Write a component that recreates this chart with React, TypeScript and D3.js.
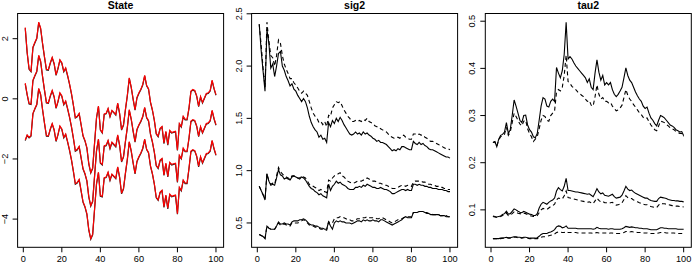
import * as d3 from 'd3';

const svgWidth = 692,
	svgHeight = 265;
const plotTop = 13.5,
	plotBottom = 247.3,
	plotWidth = 206;

const steps = d3.range(1, 101);
const xTicks = [0, 20, 40, 60, 80, 100];

// State: three quantile paths
const stateUpper = [
	2.37, 1.55, 1.0, 0.92, 1.72, 1.88, 2.02, 2.55, 2.35, 1.85,
	1.4, 0.98, 0.97, 1.2, 1.38, 1.18, 0.8, 1.02, 1.3, 1.2,
	0.92, 1.03, 0.78, 0.5, 0.18, -0.2, -0.62, -0.58, -0.48, -0.85,
	-1.22, -1.38, -1.62, -2.15, -2.45, -2.3, -1.45, -0.62, -0.24, -1.02,
	-1.12, -0.5, -0.48, -0.32, -0.58, -0.38, -0.45, -0.52, -0.14, -0.48,
	-1.02, -0.86, -0.35, 0.12, 0.7, 0.4, 0.0, -0.36, 0.05, 0.2,
	0.32, 0.48, 0.78, 0.45, 0.34, -0.1, -0.36, -0.7, -1.15, -1.24,
	-0.98, -0.92, -1.47, -1.08, -1.52, -1.05, -1.12, -1.1, -1.08, -1.7,
	-0.82, -0.92, -0.58, -0.68, -0.68, -0.3, 0.26, 0.31, 0.28, 0.1,
	-0.24, 0.08, -0.12, 0.03, 0.18, 0.2, 0.28, 0.62, 0.35, 0.14,
];
const stateMid = [
	0.52, 0.15, -0.15, -0.17, 0.62, 0.78, 0.92, 1.45, 1.25, 0.75,
	0.3, -0.12, -0.13, 0.1, 0.28, 0.08, -0.3, -0.08, 0.2, 0.1,
	-0.18, -0.07, -0.32, -0.6, -0.92, -1.3, -1.72, -1.68, -1.58, -1.95,
	-2.32, -2.48, -2.72, -3.25, -3.55, -3.4, -2.55, -1.72, -1.34, -2.12,
	-2.18, -1.56, -1.54, -1.38, -1.64, -1.44, -1.51, -1.58, -1.2, -1.54,
	-2.08, -1.92, -1.41, -0.94, -0.36, -0.66, -1.06, -1.42, -1.01, -0.86,
	-0.74, -0.58, -0.28, -0.61, -0.72, -1.16, -1.42, -1.76, -2.21, -2.3,
	-2.04, -1.98, -2.53, -2.14, -2.58, -2.11, -2.18, -2.16, -2.14, -2.76,
	-1.88, -1.98, -1.64, -1.74, -1.74, -1.3, -0.74, -0.69, -0.72, -0.9,
	-1.24, -0.92, -1.12, -0.97, -0.82, -0.8, -0.72, -0.38, -0.65, -0.86,
];
const stateLower = [
	-1.37, -1.2, -1.28, -1.22, -0.48, -0.32, -0.18, 0.35, 0.15, -0.35,
	-0.8, -1.22, -1.23, -1.0, -0.82, -1.02, -1.4, -1.18, -0.9, -1.0,
	-1.28, -1.17, -1.42, -1.7, -2.02, -2.4, -2.82, -2.78, -2.68, -3.05,
	-3.42, -3.58, -3.82, -4.35, -4.65, -4.5, -3.65, -2.82, -2.44, -3.22,
	-3.24, -2.62, -2.6, -2.44, -2.7, -2.5, -2.57, -2.64, -2.26, -2.6,
	-3.14, -2.98, -2.47, -2.0, -1.42, -1.72, -2.12, -2.48, -2.07, -1.92,
	-1.8, -1.64, -1.34, -1.67, -1.78, -2.22, -2.48, -2.82, -3.27, -3.36,
	-3.1, -3.04, -3.59, -3.2, -3.64, -3.17, -3.24, -3.22, -3.2, -3.82,
	-2.94, -3.04, -2.7, -2.8, -2.8, -2.3, -1.74, -1.69, -1.72, -1.9,
	-2.24, -1.92, -2.12, -1.97, -1.82, -1.8, -1.72, -1.38, -1.65, -1.86,
];

// sig2: solid and dashed quantiles
const sig2Upper = [
	2.4, 2.15, 1.95, 1.76, 2.35, 2.22, 1.98, 2.02, 1.9, 2.0,
	2.12, 2.14, 2.0, 1.96, 1.9, 1.86, 1.81, 1.83, 1.78, 1.76,
	1.72, 1.69, 1.66, 1.69, 1.66, 1.6, 1.52, 1.46, 1.42, 1.39,
	1.37, 1.32, 1.34, 1.3, 1.31, 1.27, 1.46, 1.42, 1.48, 1.45,
	1.5, 1.47, 1.51, 1.48, 1.44, 1.41, 1.38, 1.35, 1.34, 1.35,
	1.37, 1.35, 1.36, 1.34, 1.37, 1.35, 1.36, 1.34, 1.33, 1.31,
	1.3, 1.28, 1.29, 1.27, 1.27, 1.26, 1.25, 1.23, 1.21, 1.19,
	1.2, 1.19, 1.21, 1.2, 1.23, 1.23, 1.22, 1.21, 1.2, 1.2,
	1.28, 1.26, 1.25, 1.27, 1.25, 1.26, 1.24, 1.23, 1.21, 1.2,
	1.2, 1.19, 1.18, 1.17, 1.16, 1.15, 1.14, 1.13, 1.13, 1.12,
];
const sig2UpperAlt = [
	2.4, 2.2, 1.98, 1.8, 2.42, 2.24, 2.1, 2.08, 2.0, 2.1,
	2.25, 2.22, 2.1, 2.02, 1.97, 1.93, 1.88, 1.88, 1.84, 1.82,
	1.79, 1.76, 1.74, 1.76, 1.74, 1.72, 1.66, 1.6, 1.55, 1.52,
	1.5, 1.46, 1.47, 1.44, 1.47, 1.42, 1.53, 1.52, 1.6, 1.63,
	1.66, 1.65, 1.66, 1.62, 1.58, 1.55, 1.52, 1.5, 1.47, 1.47,
	1.48, 1.47, 1.48, 1.47, 1.49, 1.48, 1.5, 1.47, 1.46, 1.45,
	1.43, 1.42, 1.42, 1.4, 1.39, 1.38, 1.37, 1.35, 1.33, 1.32,
	1.31, 1.31, 1.32, 1.31, 1.33, 1.34, 1.32, 1.31, 1.3, 1.3,
	1.35, 1.35, 1.34, 1.35, 1.34, 1.34, 1.32, 1.31, 1.29, 1.28,
	1.28, 1.27, 1.26, 1.25, 1.24, 1.23, 1.22, 1.21, 1.21, 1.2,
];
const sig2Mid = [
	0.85, 0.81, 0.77, 0.72, 0.97, 0.9, 0.86, 0.87, 0.86, 0.93,
	1.01, 0.96, 0.95, 0.92, 0.93, 0.92, 0.91, 0.94, 0.95, 0.94,
	0.93, 0.92, 0.94, 0.93, 0.91, 0.88, 0.85, 0.83, 0.82, 0.8,
	0.79, 0.77, 0.78, 0.76, 0.75, 0.74, 0.87, 0.81, 0.85, 0.87,
	0.9, 0.88, 0.89, 0.87, 0.86, 0.85, 0.83, 0.82, 0.82, 0.82,
	0.84, 0.84, 0.85, 0.84, 0.86, 0.85, 0.87, 0.86, 0.85, 0.84,
	0.84, 0.83, 0.83, 0.84, 0.83, 0.82, 0.82, 0.81, 0.8, 0.78,
	0.78, 0.79, 0.8, 0.81, 0.82, 0.82, 0.81, 0.82, 0.81, 0.81,
	0.87, 0.87, 0.86, 0.87, 0.86, 0.86, 0.85, 0.85, 0.84, 0.84,
	0.83, 0.83, 0.83, 0.82, 0.82, 0.82, 0.81, 0.81, 0.8, 0.8,
];
const sig2MidAlt = [
	0.85, 0.81, 0.77, 0.73, 0.97, 0.9, 0.87, 0.88, 0.87, 0.95,
	1.03, 0.99, 0.97, 0.95, 0.94, 0.93, 0.92, 0.95, 0.95, 0.94,
	0.93, 0.93, 0.95, 0.94, 0.93, 0.9, 0.87, 0.86, 0.85, 0.84,
	0.83, 0.81, 0.82, 0.8, 0.8, 0.79, 0.91, 0.9, 0.93, 0.95,
	0.96, 0.97, 0.98, 0.95, 0.94, 0.92, 0.9, 0.89, 0.88, 0.88,
	0.89, 0.9, 0.9, 0.9, 0.91, 0.91, 0.93, 0.92, 0.91, 0.9,
	0.9, 0.89, 0.88, 0.88, 0.87, 0.86, 0.86, 0.85, 0.84, 0.83,
	0.83, 0.83, 0.84, 0.85, 0.86, 0.86, 0.85, 0.86, 0.85, 0.85,
	0.89, 0.9, 0.9, 0.9, 0.9, 0.89, 0.89, 0.88, 0.87, 0.87,
	0.86, 0.86, 0.85, 0.85, 0.84, 0.84, 0.83, 0.83, 0.82, 0.82,
];
const sig2Lower = [
	0.39, 0.38, 0.37, 0.35, 0.47, 0.45, 0.44, 0.44, 0.44, 0.47,
	0.51, 0.49, 0.49, 0.5, 0.49, 0.49, 0.48, 0.51, 0.52, 0.52,
	0.52, 0.53, 0.53, 0.54, 0.53, 0.51, 0.49, 0.48, 0.48, 0.47,
	0.47, 0.46, 0.45, 0.45, 0.44, 0.44, 0.51, 0.47, 0.44, 0.5,
	0.52, 0.51, 0.52, 0.51, 0.51, 0.5, 0.5, 0.5, 0.49, 0.5,
	0.51, 0.52, 0.52, 0.51, 0.53, 0.52, 0.53, 0.52, 0.52, 0.53,
	0.52, 0.52, 0.51, 0.53, 0.53, 0.52, 0.51, 0.5, 0.49, 0.48,
	0.49, 0.5, 0.51, 0.52, 0.53, 0.55, 0.56, 0.55, 0.55, 0.55,
	0.6, 0.6, 0.6, 0.61, 0.61, 0.61, 0.6, 0.59, 0.59, 0.58,
	0.58, 0.58, 0.58, 0.58, 0.57, 0.57, 0.57, 0.56, 0.56, 0.56,
];
const sig2LowerAlt = [
	0.39, 0.38, 0.37, 0.35, 0.47, 0.45, 0.44, 0.44, 0.44, 0.47,
	0.5, 0.48, 0.48, 0.49, 0.48, 0.48, 0.47, 0.5, 0.5, 0.5,
	0.5, 0.51, 0.52, 0.53, 0.52, 0.5, 0.48, 0.47, 0.47, 0.46,
	0.46, 0.45, 0.44, 0.44, 0.43, 0.43, 0.51, 0.5, 0.5, 0.54,
	0.55, 0.55, 0.56, 0.55, 0.55, 0.54, 0.53, 0.53, 0.52, 0.52,
	0.53, 0.54, 0.54, 0.54, 0.55, 0.55, 0.56, 0.55, 0.55, 0.55,
	0.55, 0.54, 0.54, 0.55, 0.55, 0.54, 0.53, 0.52, 0.51, 0.5,
	0.51, 0.52, 0.53, 0.54, 0.54, 0.55, 0.56, 0.56, 0.56, 0.56,
	0.6, 0.6, 0.6, 0.61, 0.61, 0.61, 0.6, 0.6, 0.59, 0.59,
	0.58, 0.58, 0.58, 0.58, 0.57, 0.57, 0.57, 0.57, 0.56, 0.56,
];

// tau2: solid and dashed quantiles
const tau2Upper = [
	0.243, 0.245, 0.234, 0.25, 0.258, 0.26, 0.265, 0.285, 0.262, 0.27,
	0.3, 0.333, 0.32, 0.305, 0.29, 0.285, 0.3, 0.301, 0.28, 0.27,
	0.265, 0.255, 0.253, 0.262, 0.29, 0.32, 0.338, 0.335, 0.32, 0.318,
	0.33, 0.335, 0.33, 0.402, 0.39, 0.38, 0.395, 0.43, 0.498, 0.42,
	0.425, 0.42, 0.412, 0.405, 0.4, 0.395, 0.39, 0.385, 0.38, 0.37,
	0.378, 0.36, 0.355, 0.39, 0.418, 0.392, 0.375, 0.385, 0.365, 0.37,
	0.365, 0.37, 0.355, 0.345, 0.34, 0.345, 0.352, 0.36, 0.38, 0.401,
	0.385, 0.375, 0.37, 0.36, 0.35, 0.342, 0.335, 0.33, 0.32, 0.315,
	0.318, 0.305, 0.295, 0.29, 0.283, 0.278, 0.29, 0.3, 0.298, 0.295,
	0.29, 0.285, 0.28, 0.278, 0.275, 0.27, 0.268, 0.265, 0.266, 0.257,
];
const tau2UpperAlt = [
	0.243, 0.244, 0.235, 0.248, 0.255, 0.257, 0.26, 0.275, 0.258, 0.265,
	0.285, 0.305, 0.298, 0.29, 0.282, 0.278, 0.288, 0.29, 0.272, 0.262,
	0.255, 0.245, 0.25, 0.255, 0.272, 0.29, 0.3, 0.298, 0.29, 0.288,
	0.3, 0.305, 0.31, 0.35, 0.355, 0.352, 0.36, 0.385, 0.428, 0.372,
	0.368, 0.362, 0.358, 0.355, 0.35, 0.347, 0.343, 0.34, 0.335, 0.33,
	0.332, 0.322, 0.32, 0.34, 0.365, 0.345, 0.335, 0.338, 0.33, 0.33,
	0.327, 0.328, 0.32, 0.315, 0.31, 0.312, 0.316, 0.322, 0.338, 0.355,
	0.343, 0.335, 0.33, 0.323, 0.318, 0.312, 0.306, 0.302, 0.296, 0.293,
	0.295, 0.287, 0.28, 0.275, 0.27, 0.268, 0.278, 0.288, 0.287, 0.285,
	0.281, 0.278, 0.274, 0.272, 0.27, 0.266, 0.264, 0.262, 0.262, 0.255,
];
const tau2Mid = [
	0.087, 0.086, 0.085, 0.086, 0.087, 0.09, 0.092, 0.097, 0.091, 0.092,
	0.097, 0.102, 0.1, 0.097, 0.095, 0.094, 0.097, 0.095, 0.093, 0.091,
	0.09, 0.088, 0.088, 0.092, 0.104, 0.112, 0.116, 0.114, 0.112, 0.116,
	0.119, 0.121, 0.125, 0.14, 0.147, 0.143, 0.14, 0.15, 0.167, 0.141,
	0.141, 0.14, 0.139, 0.138, 0.138, 0.137, 0.136, 0.135, 0.134, 0.133,
	0.134, 0.131, 0.128, 0.136, 0.145, 0.138, 0.134, 0.136, 0.131, 0.13,
	0.129, 0.131, 0.133, 0.128, 0.125, 0.126, 0.127, 0.131, 0.14, 0.15,
	0.144, 0.141, 0.142, 0.138, 0.135, 0.133, 0.131, 0.129, 0.127, 0.125,
	0.125, 0.122, 0.12, 0.119, 0.118, 0.118, 0.124, 0.127, 0.126, 0.125,
	0.124, 0.122, 0.121, 0.12, 0.12, 0.119, 0.119, 0.118, 0.118, 0.117,
];
const tau2MidAlt = [
	0.086, 0.085, 0.084, 0.085, 0.086, 0.088, 0.089, 0.093, 0.088, 0.089,
	0.092, 0.096, 0.095, 0.093, 0.092, 0.091, 0.093, 0.092, 0.09, 0.088,
	0.087, 0.086, 0.086, 0.088, 0.094, 0.1, 0.103, 0.102, 0.101, 0.104,
	0.107, 0.109, 0.112, 0.121, 0.125, 0.124, 0.123, 0.13, 0.14, 0.126,
	0.125, 0.124, 0.123, 0.122, 0.121, 0.12, 0.119, 0.118, 0.117, 0.116,
	0.117, 0.115, 0.113, 0.119, 0.125, 0.12, 0.117, 0.118, 0.115, 0.115,
	0.114, 0.115, 0.116, 0.112, 0.11, 0.111, 0.112, 0.115, 0.122, 0.13,
	0.126, 0.124, 0.124, 0.121, 0.119, 0.117, 0.115, 0.114, 0.112, 0.111,
	0.111, 0.109, 0.107, 0.106, 0.105, 0.105, 0.11, 0.114, 0.113, 0.113,
	0.112, 0.111, 0.11, 0.109, 0.109, 0.108, 0.108, 0.107, 0.107, 0.106,
];
const tau2Lower = [
	0.039, 0.039, 0.039, 0.039, 0.04, 0.04, 0.041, 0.042, 0.041, 0.041,
	0.042, 0.043, 0.043, 0.042, 0.042, 0.041, 0.042, 0.042, 0.041, 0.04,
	0.04, 0.04, 0.04, 0.041, 0.044, 0.048, 0.05, 0.05, 0.05, 0.052,
	0.053, 0.055, 0.058, 0.064, 0.066, 0.065, 0.062, 0.063, 0.066, 0.061,
	0.061, 0.061, 0.061, 0.061, 0.06, 0.06, 0.06, 0.06, 0.06, 0.06,
	0.06, 0.06, 0.059, 0.06, 0.063, 0.061, 0.06, 0.06, 0.06, 0.06,
	0.059, 0.06, 0.06, 0.059, 0.059, 0.059, 0.059, 0.06, 0.062, 0.065,
	0.064, 0.063, 0.064, 0.063, 0.062, 0.062, 0.061, 0.061, 0.06, 0.06,
	0.06, 0.059, 0.058, 0.058, 0.058, 0.058, 0.06, 0.062, 0.062, 0.061,
	0.061, 0.06, 0.06, 0.06, 0.06, 0.06, 0.059, 0.059, 0.059, 0.059,
];
const tau2LowerAlt = [
	0.039, 0.039, 0.039, 0.039, 0.039, 0.04, 0.04, 0.041, 0.04, 0.04,
	0.041, 0.042, 0.042, 0.041, 0.041, 0.04, 0.041, 0.041, 0.04, 0.039,
	0.039, 0.039, 0.039, 0.039, 0.04, 0.042, 0.043, 0.043, 0.044, 0.045,
	0.046, 0.047, 0.049, 0.052, 0.053, 0.053, 0.052, 0.052, 0.054, 0.052,
	0.052, 0.052, 0.052, 0.052, 0.051, 0.051, 0.051, 0.051, 0.051, 0.051,
	0.051, 0.051, 0.05, 0.051, 0.052, 0.051, 0.051, 0.051, 0.051, 0.051,
	0.05, 0.051, 0.051, 0.05, 0.05, 0.05, 0.05, 0.051, 0.052, 0.054,
	0.054, 0.053, 0.054, 0.053, 0.053, 0.052, 0.052, 0.052, 0.051, 0.051,
	0.051, 0.05, 0.05, 0.05, 0.05, 0.05, 0.051, 0.052, 0.052, 0.052,
	0.051, 0.051, 0.051, 0.051, 0.051, 0.05, 0.05, 0.05, 0.05, 0.05,
];

const stateTicks = [-4, -2, 0, 2];
const sig2Ticks = [0.5, 1.0, 1.5, 2.0, 2.5];
const tau2Ticks = [0.1, 0.2, 0.3, 0.4, 0.5];

type Series = { values: number[]; dashed?: boolean; red?: boolean };
type PanelType = {
	title: string;
	left: number;
	series: Series[];
	ticks: number[];
	format: (n: number) => string;
};

const fontFamily = '"Liberation Sans", Arial, Helvetica, sans-serif';

// R-style extended range (4% each side)
function padded(lo: number, hi: number): [number, number] {
	const r = hi - lo;
	return [lo - 0.04 * r, hi + 0.04 * r];
}

function Panel({ title, left, series, ticks, format }: PanelType) {
	const xScale = d3
		.scaleLinear()
		.domain(padded(1, 100))
		.range([left, left + plotWidth]);
	const all = series.flatMap((s) => s.values);
	const yScale = d3
		.scaleLinear()
		.domain(padded(d3.min(all)!, d3.max(all)!))
		.range([plotBottom, plotTop]);
	const line = d3
		.line<number>()
		.x((_, i) => xScale(steps[i]))
		.y((d) => yScale(d));

	return (
		<g>
			{series.map((s, i) =>
				s.red ? (
					<g key={i}>
						<path d={line(s.values)!} fill="none" stroke="#222" strokeWidth={1.2} transform="translate(0,0.6)" />
						<path d={line(s.values)!} fill="none" stroke="#ff0000" strokeWidth={1.15} />
					</g>
				) : (
					<path
						key={i}
						d={line(s.values)!}
						fill="none"
						stroke="#000"
						strokeWidth={1.1}
						strokeDasharray={s.dashed ? '4 3' : undefined}
					/>
				)
			)}
			{/* box */}
			<rect
				x={left}
				y={plotTop}
				width={plotWidth}
				height={plotBottom - plotTop}
				fill="none"
				stroke="#000"
				strokeWidth={1}
			/>
			{/* bottom axis */}
			{xTicks.map((t) => (
				<g key={t} transform={`translate(${xScale(t)},${plotBottom})`}>
					<line y1={0} y2={5} stroke="#000" />
					<text y={14.5} textAnchor="middle" fontSize={9.2} fontFamily={fontFamily}>
						{t}
					</text>
				</g>
			))}
			{/* left axis */}
			{ticks.map((t) => (
				<g key={t} transform={`translate(${left},${yScale(t)})`}>
					<line x1={-5} x2={0} stroke="#000" />
					<text
						transform="translate(-13,0) rotate(-90)"
						textAnchor="middle"
						dominantBaseline="central"
						fontSize={9.2}
						fontFamily={fontFamily}
					>
						{format(t)}
					</text>
				</g>
			))}
			<text
				x={left + plotWidth / 2}
				y={9}
				textAnchor="middle"
				fontSize={10.5}
				fontWeight="bold"
				fontFamily={fontFamily}
			>
				{title}
			</text>
		</g>
	);
}

export default function App() {
	const panels: PanelType[] = [
		{
			title: 'State',
			left: 17.6,
			series: [
				{ values: stateUpper, red: true },
				{ values: stateMid, red: true },
				{ values: stateLower, red: true },
			],
			ticks: stateTicks,
			format: d3.format('d'),
		},
		{
			title: 'sig2',
			left: 251.6,
			series: [
				{ values: sig2UpperAlt, dashed: true },
				{ values: sig2MidAlt, dashed: true },
				{ values: sig2LowerAlt, dashed: true },
				{ values: sig2Upper },
				{ values: sig2Mid },
				{ values: sig2Lower },
			],
			ticks: sig2Ticks,
			format: d3.format('.1f'),
		},
		{
			title: 'tau2',
			left: 485.3,
			series: [
				{ values: tau2UpperAlt, dashed: true },
				{ values: tau2MidAlt, dashed: true },
				{ values: tau2LowerAlt, dashed: true },
				{ values: tau2Upper },
				{ values: tau2Mid },
				{ values: tau2Lower },
			],
			ticks: tau2Ticks,
			format: d3.format('.1f'),
		},
	];

	return (
		<svg
			width={svgWidth}
			height={svgHeight}
			viewBox={`0 0 ${svgWidth} ${svgHeight}`}
			style={{ position: 'absolute', left: 0, top: 0, background: '#fff' }}
		>
			{panels.map((p) => (
				<Panel key={p.title} {...p} />
			))}
		</svg>
	);
}
